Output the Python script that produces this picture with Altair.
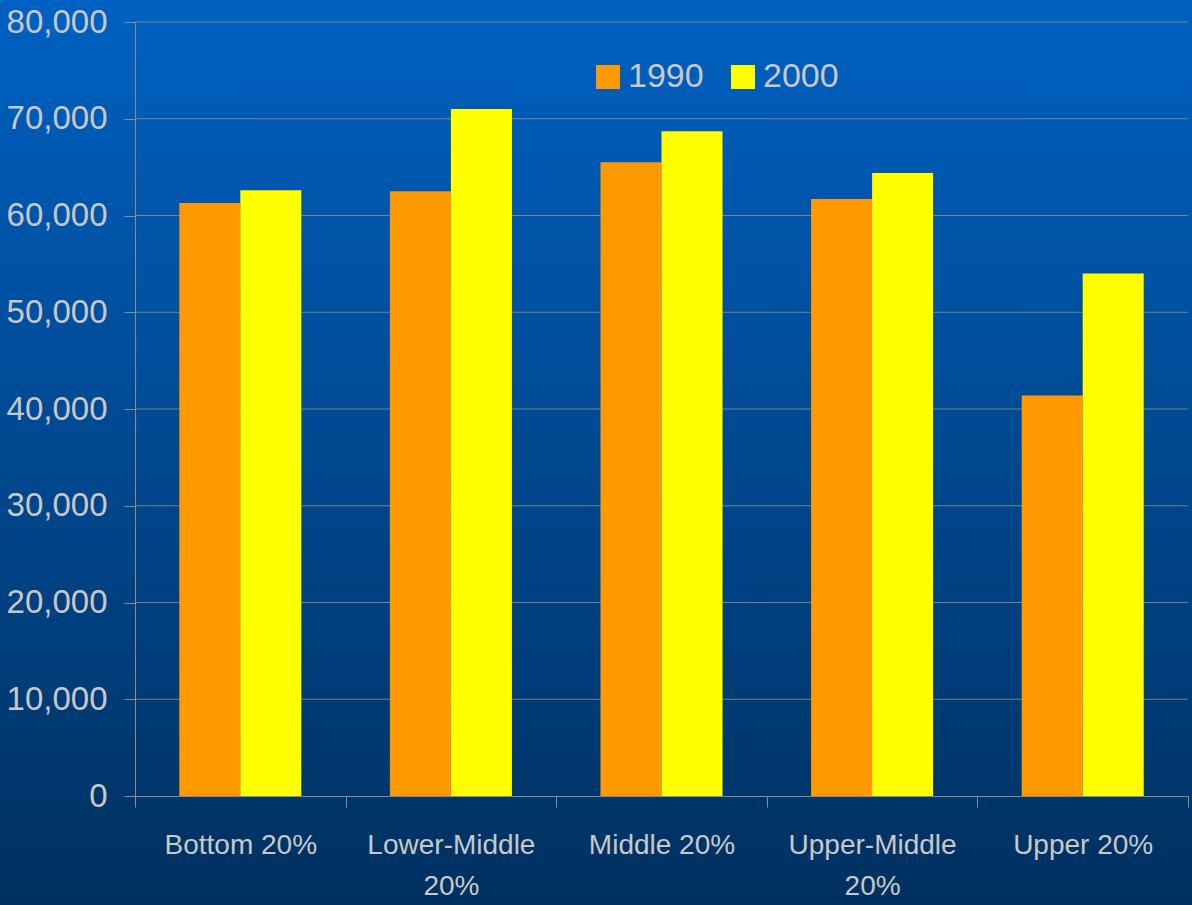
import altair as alt
import pandas as pd

categories = ["Bottom 20%", "Lower-Middle 20%", "Middle 20%", "Upper-Middle 20%", "Upper 20%"]
years = ["1990", "2000"]
values_1990 = [61300, 62500, 65500, 61700, 41400]
values_2000 = [62600, 71000, 68700, 64400, 54000]
y_ticks = [0, 10000, 20000, 30000, 40000, 50000, 60000, 70000, 80000]

rows = []
for c, a, b in zip(categories, values_1990, values_2000):
    rows.append({"group": c, "year": "1990", "value": a})
    rows.append({"group": c, "year": "2000", "value": b})
df = pd.DataFrame(rows)
grid_df = pd.DataFrame({"tick": y_ticks[1:]})

W, H = 1053, 774
PAD = {"left": 135, "top": 22, "right": 4, "bottom": 109}
FONT = "Liberation Sans, Arial, sans-serif"
LABEL = "#c8c8c8"
LINE = "#8c8c8c"

yscale = alt.Scale(domain=[0, 80000], nice=False)

bg = alt.Chart(pd.DataFrame({"a": [0]})).mark_rect(
    clip=False,
    fill=alt.Gradient(
        gradient="linear", x1=0, y1=0, x2=0, y2=1,
        stops=[alt.GradientStop(color="#0061c2", offset=0),
               alt.GradientStop(color="#00305f", offset=1)],
    ),
).encode(
    x=alt.value(-PAD["left"]), x2=alt.value(W + PAD["right"]),
    y=alt.value(-PAD["top"]), y2=alt.value(H + PAD["bottom"]),
)

grid = alt.Chart(grid_df).mark_rule(color=LINE, strokeWidth=1, opacity=0.85).encode(
    y=alt.Y("tick:Q", scale=yscale),
)

bars = alt.Chart(df).mark_bar().encode(
    x=alt.X("group:N", sort=categories, title=None,
            scale=alt.Scale(paddingInner=0, paddingOuter=0),
            axis=alt.Axis(labelAngle=0, tickBand="extent", labelFont=FONT,
                          labelFontSize=28, labelColor=LABEL, labelLineHeight=41,
                          labelPadding=24, labelLimit=400, tickSize=11, tickColor=LINE,
                          domainColor=LINE, grid=False, zindex=1,
                          labelExpr="indexof(datum.label,'-')>=0 ? split(datum.label,' ') : datum.label")),
    xOffset=alt.XOffset("year:N", sort=years,
                        scale=alt.Scale(paddingInner=0, paddingOuter=0.726)),
    y=alt.Y("value:Q", title=None, scale=yscale,
            axis=alt.Axis(values=y_ticks, format=",.0f", labelFont=FONT, labelFontSize=33,
                          labelColor=LABEL, labelPadding=17, tickSize=11,
                          tickColor=LINE, domainColor=LINE, grid=False, zindex=1)),
    color=alt.Color("year:N", sort=years,
                    scale=alt.Scale(domain=years, range=["#ff9900", "#ffff00"]),
                    legend=alt.Legend(title=None, orient="none", direction="horizontal",
                                      legendX=456, legendY=38, symbolType="square",
                                      symbolSize=576, symbolStrokeWidth=0, symbolOpacity=1,
                                      labelFont=FONT, labelFontSize=34, labelColor=LABEL,
                                      labelOffset=3, columnPadding=22)),
)

chart = alt.layer(bg, grid, bars).properties(
    width=W, height=H, padding=PAD,
    autosize=alt.AutoSizeParams(type="none"),
    background="#00305f",
).configure_view(stroke=None)

chart.save("out.html", embed_options={"renderer": "svg", "actions": False})
